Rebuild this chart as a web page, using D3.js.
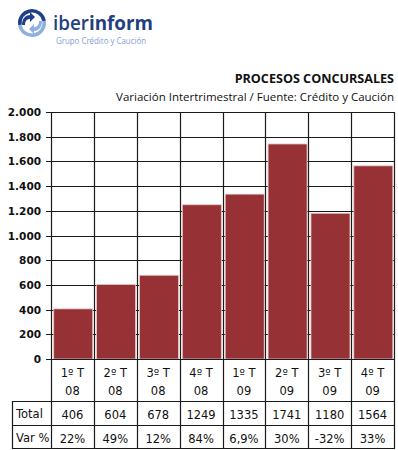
<!DOCTYPE html>
<html>
<head>
<meta charset="utf-8">
<script src="https://cdn.jsdelivr.net/npm/d3@7"></script>
<style>
body{margin:0;background:#fff}
svg{display:block}
</style>
</head>
<body>
<div id="chart"></div>
<script>
var quarters = ["1º T|08","2º T|08","3º T|08","4º T|08","1º T|09","2º T|09","3º T|09","4º T|09"]
var totals = [406,604,678,1249,1335,1741,1180,1564]
var variations = ["22%","49%","12%","84%","6,9%","30%","-32%","33%"]
var yTicks = [0,200,400,600,800,1000,1200,1400,1600,1800,2000]

var W = 398, H = 450
var plotLeft = 51, plotRight = 394, plotTop = 112, plotBottom = 359
var tableLeft = 12
var rowLabelBottom = 401, rowTotalBottom = 425, rowVarBottom = 448
var font = "Tahoma, 'DejaVu Sans', sans-serif"

var svg = d3.select("#chart").append("svg").attr("width",W).attr("height",H)

// logo
var logo = svg.append("g")
var cx = 32, cy = 23, r = 14
var arc = d3.arc()
logo.append("path").attr("transform","translate("+cx+","+cy+")")
	.attr("d",arc({innerRadius:r-3.5,outerRadius:r,startAngle:-Math.PI*0.55,endAngle:Math.PI*0.45}))
	.attr("fill","#1f3f8c")
logo.append("path").attr("transform","translate("+cx+","+cy+")")
	.attr("d",arc({innerRadius:r-3.5,outerRadius:r,startAngle:Math.PI*0.45,endAngle:Math.PI*1.45}))
	.attr("fill","#8fb0e0")
// inner arrows
logo.append("path").attr("d","M22,25 C22,18 26,15 30,15 L30,12 L35,17 L30,22 L30,19 C27,19 25,21 25,25 Z").attr("fill","#1f3f8c")
logo.append("path").attr("d","M42,21 C42,28 38,31 34,31 L34,34 L29,29 L34,24 L34,27 C37,27 39,25 39,21 Z").attr("fill","#8fb0e0")
logo.append("text").attr("x",53).attr("y",30)
	.attr("font-family","'Open Sans', sans-serif").attr("font-size",19).attr("fill","#233f80")
	.attr("textLength",100).attr("lengthAdjust","spacingAndGlyphs")
	.call(function(t){
		t.append("tspan").attr("font-weight","600").text("iber")
		t.append("tspan").attr("font-weight","bold").text("inform")
	})
logo.append("text").attr("x",56).attr("y",44)
	.attr("font-family","'Open Sans', sans-serif").attr("font-size",8.5).attr("fill","#7f9fd6")
	.attr("textLength",90).attr("lengthAdjust","spacingAndGlyphs")
	.text("Grupo Crédito y Caución")

// titles
svg.append("text").attr("x",plotRight).attr("y",83).attr("text-anchor","end")
	.attr("font-family","'Open Sans', sans-serif").attr("font-weight","bold").attr("font-size",12.6)
	.attr("fill","#111").text("PROCESOS CONCURSALES")
svg.append("text").attr("x",plotRight).attr("y",101).attr("text-anchor","end")
	.attr("font-family","'Open Sans', sans-serif").attr("font-size",11.5)
	.attr("fill","#111").text("Variación Intertrimestral / Fuente: Crédito y Caución")

var x = d3.scaleBand().domain(quarters).range([plotLeft,plotRight]).paddingInner(0.09).paddingOuter(0.045).align(0.7)
var xEdge = d3.scaleBand().domain(quarters).range([plotLeft,plotRight])
var y = d3.scaleLinear().domain([0,2000]).range([plotBottom,plotTop])

// gridlines
svg.append("g").selectAll("line").data(yTicks).join("line")
	.attr("x1",plotLeft-5).attr("x2",plotRight)
	.attr("y1",d=>Math.round(y(d))+0.5).attr("y2",d=>Math.round(y(d))+0.5)
	.attr("stroke","#1a1a1a").attr("stroke-width",1.2)
var edges = quarters.map(q=>xEdge(q)).concat([plotRight])
svg.append("g").selectAll("line").data(edges).join("line")
	.attr("x1",d=>Math.round(d)+0.5).attr("x2",d=>Math.round(d)+0.5)
	.attr("y1",plotTop).attr("y2",rowVarBottom)
	.attr("stroke","#1a1a1a").attr("stroke-width",1.2)

// y axis labels
svg.append("g").selectAll("text").data(yTicks).join("text")
	.attr("x",41).attr("y",d=>y(d)+4).attr("text-anchor","end")
	.attr("font-family",font).attr("font-weight","bold").attr("font-size",10.5).attr("fill","#111")
	.text(d=>d3.format(",")(d).replace(",","."))

// bars
svg.append("g").selectAll("rect").data(totals).join("rect")
	.attr("x",(d,i)=>x(quarters[i])).attr("width",x.bandwidth())
	.attr("y",d=>y(d)).attr("height",d=>plotBottom-y(d))
	.attr("fill","#963236").attr("stroke","#e8c8c8").attr("stroke-width",0.8)

// table
var hl = [[plotLeft,plotBottom],[tableLeft,rowLabelBottom],[tableLeft,rowTotalBottom],[tableLeft,rowVarBottom]]
svg.append("g").selectAll("line").data(hl).join("line")
	.attr("x1",d=>d[0]).attr("x2",plotRight+1)
	.attr("y1",d=>d[1]+0.5).attr("y2",d=>d[1]+0.5)
	.attr("stroke","#1a1a1a").attr("stroke-width",1.2)
svg.append("line").attr("x1",tableLeft+0.5).attr("x2",tableLeft+0.5)
	.attr("y1",rowLabelBottom).attr("y2",rowVarBottom+1)
	.attr("stroke","#1a1a1a").attr("stroke-width",1.2)

var cell = svg.append("g").attr("font-family",font).attr("font-size",11.5).attr("fill","#111").attr("text-anchor","middle")
quarters.forEach(function(q,i){
	var mx = xEdge(q)+xEdge.bandwidth()/2
	var parts = q.split("|")
	cell.append("text").attr("x",mx).attr("y",377).text(parts[0])
	cell.append("text").attr("x",mx).attr("y",395).text(parts[1])
	cell.append("text").attr("x",mx).attr("y",419).text(totals[i])
	cell.append("text").attr("x",mx).attr("y",443).text(variations[i])
})
cell.append("text").attr("x",16).attr("y",418).attr("text-anchor","start").text("Total")
cell.append("text").attr("x",16).attr("y",442).attr("text-anchor","start").text("Var %")
</script>
</body>
</html>
